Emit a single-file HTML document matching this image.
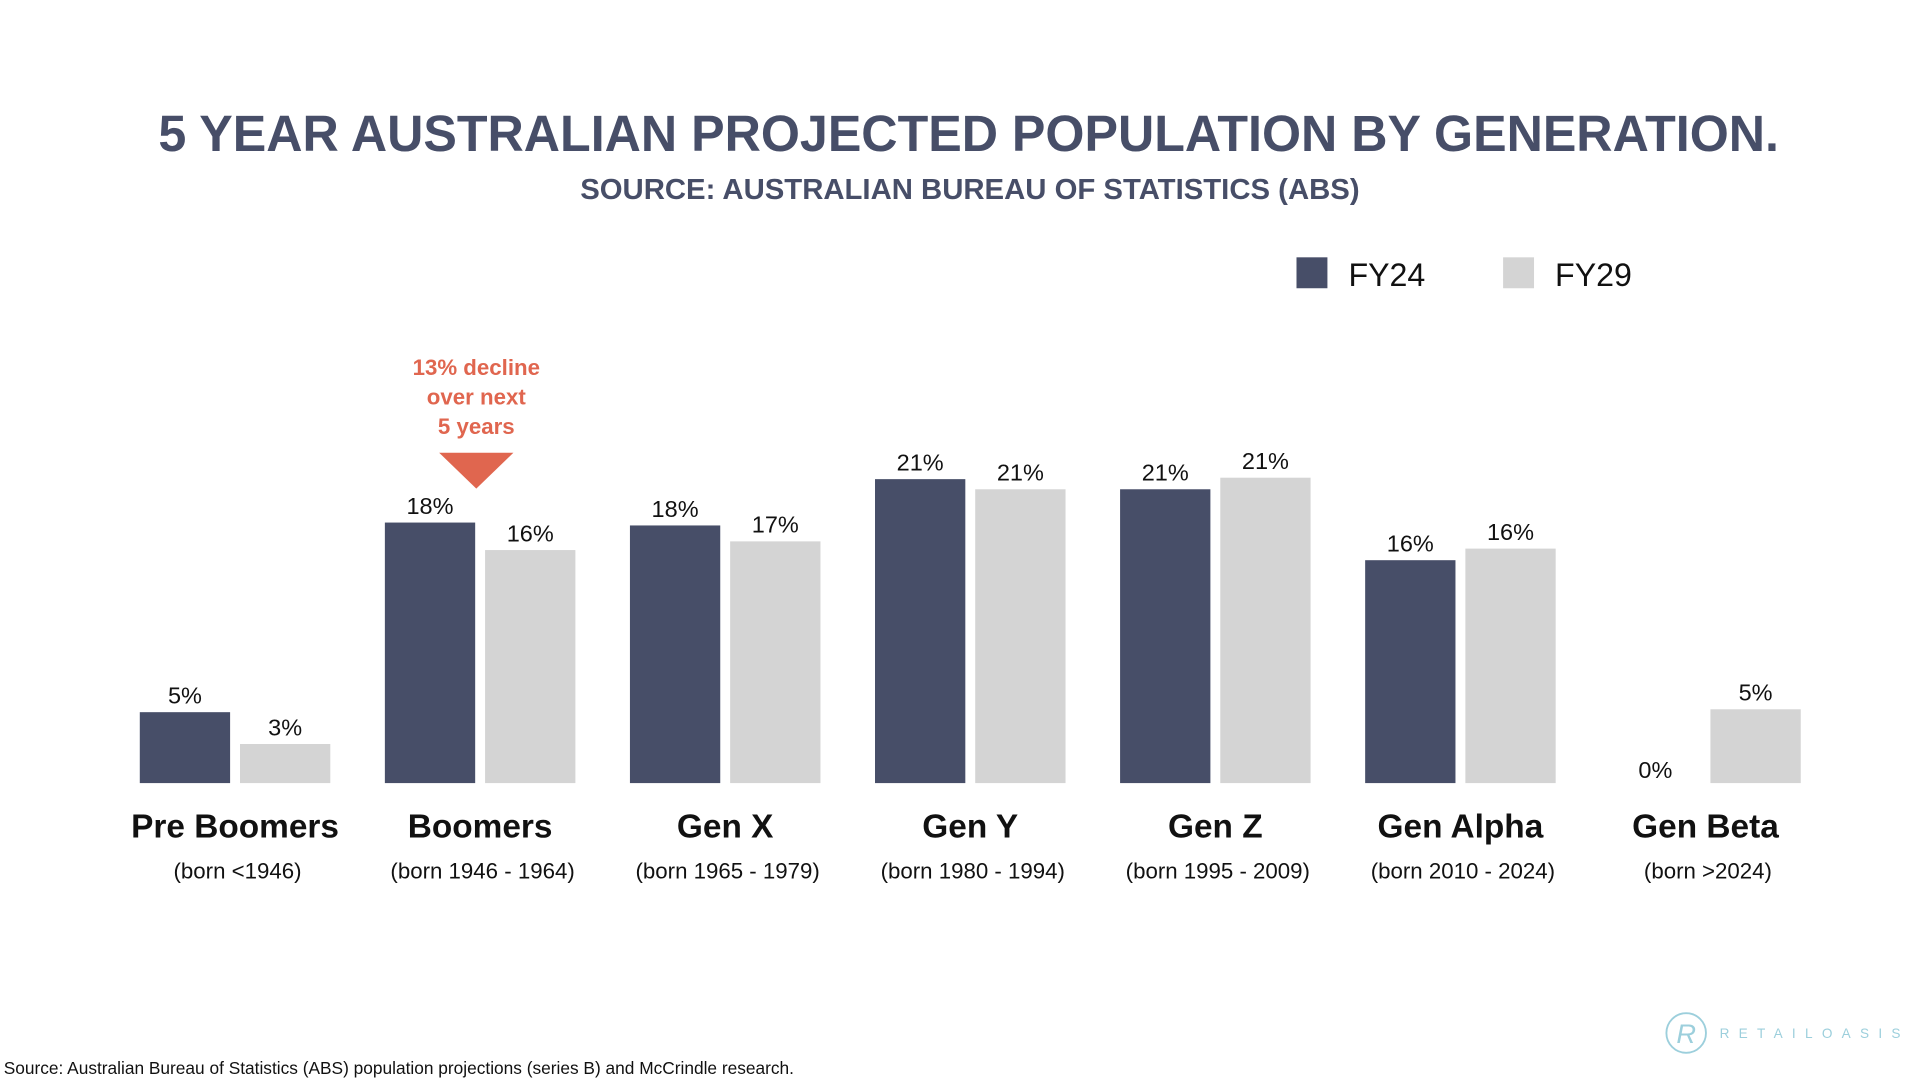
<!DOCTYPE html>
<html><head><meta charset="utf-8"><style>
html,body{margin:0;padding:0;background:#fff;overflow:hidden}
svg{display:block;font-family:"Liberation Sans",Arial,sans-serif}
</style></head><body>
<svg id="chart" width="1920" height="1080" viewBox="0 0 1552 873" preserveAspectRatio="none" xmlns="http://www.w3.org/2000/svg">
<rect width="1552" height="873" fill="#fff"/>
<text x="783" y="122" text-anchor="middle" font-size="41" font-weight="bold" fill="#474e68" textLength="1310" lengthAdjust="spacingAndGlyphs">5 YEAR AUSTRALIAN PROJECTED POPULATION BY GENERATION.</text>
<text x="784" y="161" text-anchor="middle" font-size="23" font-weight="bold" fill="#474e68" textLength="630" lengthAdjust="spacingAndGlyphs">SOURCE: AUSTRALIAN BUREAU OF STATISTICS (ABS)</text>
<g>
<rect x="1048" y="208" width="25" height="25" fill="#474e68"/>
<text x="1090" y="231" font-size="26" fill="#111">FY24</text>
<rect x="1215" y="208" width="25" height="25" fill="#d4d4d4"/>
<text x="1257" y="231" font-size="26" fill="#111">FY29</text>
</g>
<g fill="#e0664f" font-weight="bold" font-size="18" text-anchor="middle">
<text x="385" y="303">13% decline</text>
<text x="385" y="327">over next</text>
<text x="385" y="351">5 years</text>
<polygon points="355,366 415,366 385,395"/>
</g>
<g id="bars"></g>
<text x="3" y="873" font-size="14" fill="#111" dy="-5">Source: Australian Bureau of Statistics (ABS) population projections (series B) and McCrindle research.</text>
<g>
<circle cx="1363" cy="835" r="16" fill="none" stroke="#9ccfdc" stroke-width="1.5"/>
<text x="1363" y="843" text-anchor="middle" font-size="22" fill="#9ccfdc" font-style="italic">R</text>
<text x="1390" y="839" font-size="11" fill="#9ccfdc" letter-spacing="7.5">RETAILOASIS</text>
</g>
</svg>
<script>
const categories=["Pre Boomers","Boomers","Gen X","Gen Y","Gen Z","Gen Alpha","Gen Beta"];
const subLabels=["(born <1946)","(born 1946 - 1964)","(born 1965 - 1979)","(born 1980 - 1994)","(born 1995 - 2009)","(born 2010 - 2024)","(born >2024)"];
const fy24=[4.9,18.0,17.8,21.0,20.3,15.4,0];
const fy29=[2.7,16.1,16.7,20.3,21.1,16.2,5.1];
const fy24Labels=["5%","18%","18%","21%","21%","16%","0%"];
const fy29Labels=["3%","16%","17%","21%","21%","16%","5%"];
const NS="http://www.w3.org/2000/svg";
const g=document.getElementById("bars");
const baseY=633, pxPer=11.7, x0=113, step=198.1, bw=73, gap=8;
function xPos(i,s){return x0+i*step+s*(bw+gap);}
function yPos(v){return baseY-v*pxPer;}
function mk(tag,attrs){const e=document.createElementNS(NS,tag);for(const k in attrs)e.setAttribute(k,attrs[k]);g.appendChild(e);return e;}
categories.forEach((c,i)=>{
  [[fy24,fy24Labels,"#474e68","fy24"],[fy29,fy29Labels,"#d4d4d4","fy29"]].forEach((s,si)=>{
    const v=s[0][i], x=xPos(i,si), y=yPos(v);
    const r=mk("rect",{x:x,y:y,width:bw,height:baseY-y,fill:s[2]});
    
    
    const t=mk("text",{x:x+bw/2,y:y-7,"text-anchor":"middle","font-size":19,fill:"#111"});
    t.textContent=s[1][i];
    
    
    if(v===0){t.setAttribute('y',baseY-4);}
  });
  const cx=x0+i*step+(2*bw+gap)/2;
  const n=mk("text",{x:cx,y:677,"text-anchor":"middle","font-size":27,"font-weight":"bold",fill:"#111"});
  n.textContent=c;
  
  
  const sl=mk("text",{x:cx+2,y:710,"text-anchor":"middle","font-size":18,fill:"#111"});
  sl.textContent=subLabels[i];
  
  
});
</script>
</body></html>
